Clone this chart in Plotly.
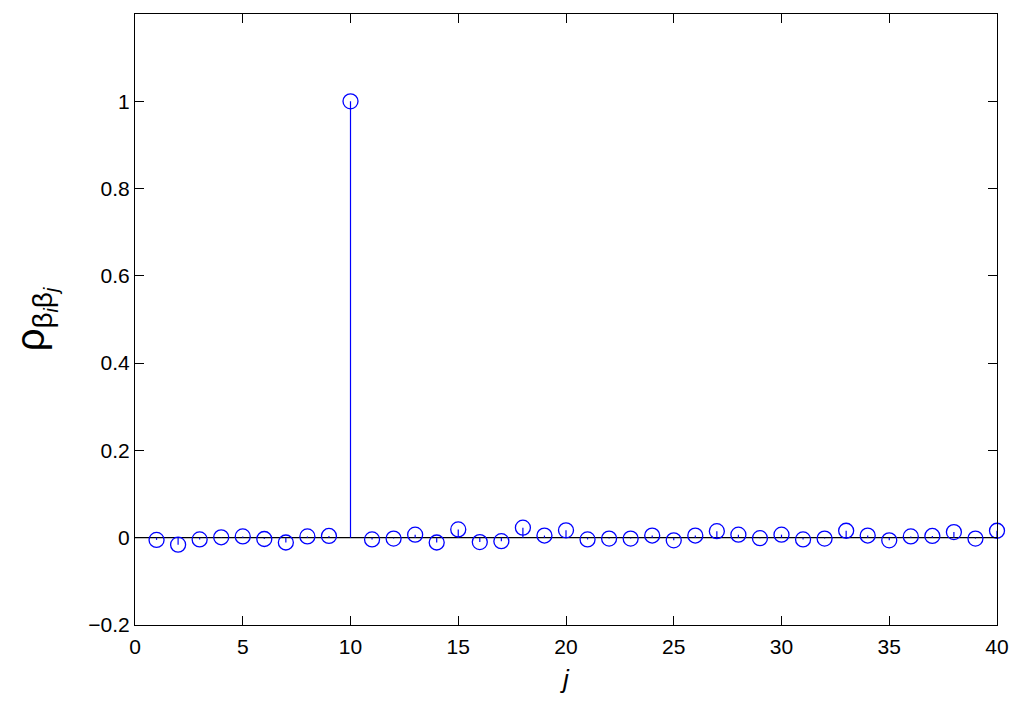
import plotly.graph_objects as go

lags = list(range(1, 41))
rho = [-0.005, -0.016, -0.004, 0.001, 0.003, -0.003, -0.011, 0.003, 0.004, 1.0,
       -0.004, -0.002, 0.007, -0.011, 0.019, -0.010, -0.008, 0.023, 0.005, 0.017,
       -0.004, -0.002, -0.002, 0.005, -0.006, 0.005, 0.015, 0.007, -0.001, 0.007,
       -0.004, -0.002, 0.016, 0.005, -0.006, 0.003, 0.004, 0.013, -0.002, 0.016]

x_ticks = [0, 5, 10, 15, 20, 25, 30, 35, 40]
y_ticks = [-0.2, 0, 0.2, 0.4, 0.6, 0.8, 1]
y_tick_text = ["\u22120.2", "0", "0.2", "0.4", "0.6", "0.8", "1"]

blue = "#0000ff"
font = "Liberation Sans, Arial, sans-serif"

stem_x, stem_y = [], []
for xv, yv in zip(lags, rho):
    stem_x += [xv, xv, None]
    stem_y += [0, yv, None]

fig = go.Figure()
fig.add_trace(go.Scatter(x=stem_x, y=stem_y, mode="lines",
                         line=dict(color=blue, width=1.2), hoverinfo="skip",
                         showlegend=False))
fig.add_trace(go.Scatter(x=lags, y=rho, mode="markers",
                         marker=dict(symbol="circle-open", size=15, color=blue,
                                     line=dict(width=1.3, color=blue)),
                         showlegend=False, cliponaxis=False))
fig.add_shape(type="line", xref="paper", x0=0, x1=1, yref="y", y0=0, y1=0,
              line=dict(color="black", width=1.2), layer="below")

axis_common = dict(showline=True, linecolor="black", linewidth=1, mirror="ticks",
                   ticks="inside", ticklen=9, tickcolor="black", showgrid=False,
                   zeroline=False, tickfont=dict(family=font, size=21, color="black"))

fig.update_layout(
    width=1008, height=689,
    margin=dict(l=127, r=19, t=6, b=72, autoexpand=False),
    paper_bgcolor="white", plot_bgcolor="white",
    font=dict(family=font, color="black"),
    xaxis=dict(range=[0, 40], tickvals=x_ticks, ticklabelstandoff=3,
               title=dict(text="<i>j</i>", font=dict(family=font, size=26), standoff=12),
               **axis_common),
    yaxis=dict(range=[-0.2, 1.2], tickvals=y_ticks, ticktext=y_tick_text,
               ticklabelstandoff=0,
               title=dict(text="\u03c1<sub>\u03b2<sub><i>i</i></sub>\u03b2<sub><i>j</i></sub></sub>",
                          font=dict(family=font, size=40), standoff=36),
               **axis_common),
)

fig.write_html("out.html")
